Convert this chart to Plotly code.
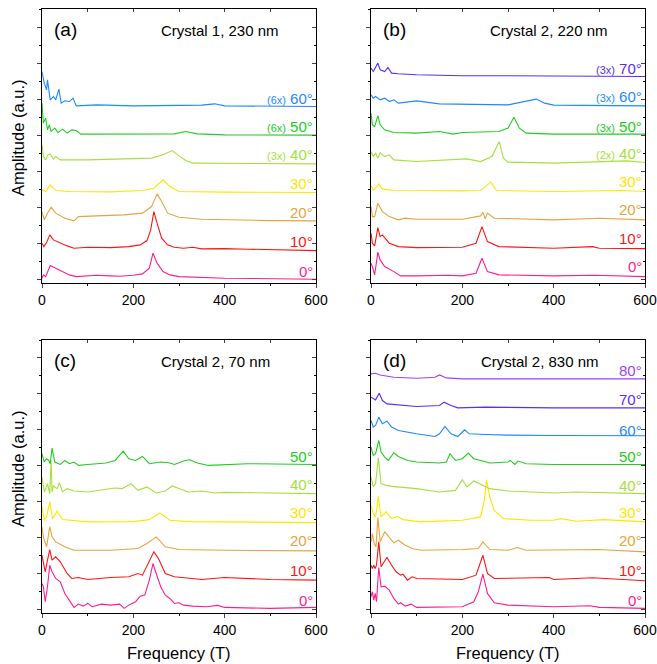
import plotly.graph_objects as go

# ---------------- data (frequency T, amplitude a.u. incl. offset) ----------------
A0 = [(0,1.2),(3,4.5),(8,2.8),(18,13.8),(30,11.2),(45,7.8),(60,4.5),(75,2.8),(100,3.5),(120,4.2),(150,3.5),(170,3.2),(200,4.2),(220,5.5),(235,11.2),(243,26.2),(252,16.2),(265,7.8),(280,4.5),(300,2.8),(400,1.2),(500,0.5),(600,0.2)]
A10 = [(0,36.2),(4,32.8),(10,36.8),(17,44.5),(25,39.5),(40,36.2),(55,33.5),(70,31.2),(100,32.2),(150,31.8),(190,32.8),(215,34.5),(230,38.8),(238,49.5),(245,67.8),(252,56.2),(262,41.2),(275,34.5),(290,32.2),(310,31.2),(330,32.2),(350,30.5),(400,30.8),(450,30.2),(500,29.5),(600,28.8)]
A20 = [(0,67.8),(5,59.5),(12,66.2),(20,72.2),(30,66.2),(50,61.2),(70,58.5),(80,62.8),(120,63.5),(180,64.5),(220,66.2),(240,72.8),(252,85.5),(262,77.8),(275,66.2),(300,62.2),(350,60.2),(400,59.5),(500,58.8),(600,58.5)]
A30 = [(0,89.5),(8,87.8),(18,94.5),(30,88.8),(60,87.8),(150,87.5),(220,88.8),(245,91.2),(265,99.5),(280,92.8),(300,87.8),(400,87.2),(600,86.8)]
A40 = [(0,134.5),(3,122.8),(8,119.5),(13,124.5),(18,125.5),(25,120.2),(30,122.8),(40,119.5),(100,119.5),(200,120.2),(240,121.2),(265,124.5),(285,128.8),(300,123.5),(315,118.8),(330,116.2),(400,116.2),(600,115.5)]
A50 = [(0,176.2),(3,156.2),(8,161.2),(12,149.5),(16,154.5),(20,147.8),(28,151.2),(35,146.8),(45,150.2),(55,146.2),(65,149.5),(75,148.8),(85,145.2),(150,145.2),(250,145.2),(290,145.5),(315,147.8),(340,145.5),(400,144.5),(600,144.2)]
A60 = [(0,207.8),(5,196.2),(10,189.5),(12,199.5),(18,179.5),(25,182.8),(30,179.5),(37,190.2),(42,176.2),(50,178.5),(60,177.8),(68,181.2),(75,173.5),(120,174.5),(200,173.5),(300,173.5),(350,174.2),(378,175.5),(400,173.5),(600,172.8)]

B0 = [(0,16.2),(3,12.8),(8,4.5),(15,27.2),(20,19.5),(30,12.8),(50,7.8),(65,3.5),(100,3.5),(170,4.2),(200,3.5),(230,6.2),(243,21.2),(255,7.8),(280,4.5),(400,3.5),(490,4.2),(600,2.8)]
B10 = [(0,46.2),(3,36.2),(8,33.5),(15,51.8),(20,42.8),(25,44.5),(40,36.2),(60,32.8),(100,31.8),(200,32.2),(230,36.2),(243,52.8),(255,37.8),(280,32.8),(400,31.2),(485,32.8),(500,31.2),(600,30.8)]
B20 = [(0,72.8),(3,62.8),(8,62.8),(15,76.2),(25,67.8),(40,62.8),(60,59.5),(75,61.2),(100,60.2),(200,60.2),(240,63.5),(245,67.2),(250,60.5),(255,66.2),(270,61.2),(400,59.5),(500,61.2),(600,59.5)]
B30 = [(0,94.5),(5,89.5),(10,91.2),(17,95.5),(25,90.2),(50,88.8),(200,88.5),(240,88.8),(262,97.2),(275,88.8),(400,87.8),(550,88.8),(600,87.8)]
B40 = [(0,127.8),(5,122.8),(10,126.2),(15,121.2),(20,126.8),(30,122.8),(40,124.5),(50,119.5),(100,117.8),(175,119.5),(210,120.5),(240,117.8),(265,122.8),(281,137.8),(290,121.2),(300,117.2),(400,116.2),(560,118.5),(600,116.8)]
B50 = [(0,166.2),(3,154.5),(8,152.8),(15,163.8),(20,154.5),(30,149.5),(50,146.8),(100,146.2),(150,147.8),(180,145.2),(200,146.8),(280,147.8),(300,151.2),(313,162.2),(325,151.2),(340,146.2),(400,145.2),(600,145.2)]
B60 = [(0,184.5),(5,181.2),(10,182.8),(20,179.5),(30,181.2),(40,177.8),(50,179.5),(60,176.2),(100,178.5),(150,175.5),(300,174.5),(340,177.8),(362,180.2),(380,176.2),(400,174.2),(600,173.5)]
B70 = [(0,211.2),(5,207.8),(15,216.2),(20,209.5),(30,207.8),(37,211.8),(45,206.2),(60,205.5),(100,204.5),(200,203.5),(300,203.5),(600,202.8)]

C0 = [(0,26),(3,22.7),(7,7.7),(12,22.7),(17,44.3),(22,37.7),(30,31),(40,27.7),(50,16),(60,9.3),(70,2),(80,5.3),(90,3.3),(100,6),(110,2.7),(130,5.3),(150,4.3),(170,5.3),(180,1),(190,4.3),(205,7.7),(215,13.3),(225,14.3),(235,29.3),(243,46),(250,36),(260,22.7),(270,14.3),(280,11),(290,6),(300,6.7),(310,4.3),(330,3.3),(360,2.7),(385,4),(400,2),(500,1),(600,2)]
C10 = [(0,54.3),(3,46),(7,37.7),(12,49.3),(17,60),(22,49.3),(30,52.7),(40,47.7),(55,36),(65,31),(80,32),(100,30),(150,32),(190,32.7),(210,36),(220,34.3),(235,49.3),(245,57.7),(255,51),(270,36),(290,32.7),(350,30),(400,32),(500,30),(600,29.3)]
C20 = [(0,82.7),(3,72.7),(10,62.7),(17,82.7),(22,72.7),(30,67.7),(50,62.7),(70,59.3),(150,59.3),(210,61),(230,66),(250,72.7),(270,62.7),(300,60),(400,59.3),(600,58.7)]
C30 = [(0,102.7),(5,89.3),(10,92.7),(17,107.7),(23,91),(33,98.3),(45,90),(60,89.3),(100,87.7),(200,88),(235,90),(258,96.7),(280,89.3),(320,88),(400,87.7),(600,87)]
C40 = [(0,132.7),(5,117.7),(12,126),(17,116),(20,149.3),(22,117.7),(25,123.7),(33,121),(38,127),(45,117.7),(55,121),(70,118.7),(100,117.7),(140,120),(160,121.7),(175,121),(195,126),(210,119.3),(230,122.7),(250,116.7),(270,118.7),(285,123.7),(300,121),(320,117.7),(350,118.7),(380,116.7),(400,117.3),(500,116.7),(600,116)]
C50 = [(0,156),(5,147.7),(10,151),(15,149.3),(18,146),(22,161.7),(28,147.7),(40,145.3),(50,149.3),(60,146),(70,147.7),(80,144.3),(100,145.3),(140,146.7),(160,149.3),(178,158.7),(190,151),(205,149.3),(220,153.3),(235,146),(260,147.7),(280,146.7),(290,145.3),(310,148.7),(323,150),(340,146.7),(365,144.3),(400,145),(450,146),(600,145.3)]

D0 = [(0,12.7),(3,17.7),(6,9.3),(9,16),(12,7.7),(17,42),(22,22.7),(30,23.3),(40,19.3),(50,11),(60,5.3),(65,6.7),(75,3.3),(88,5.3),(100,2),(150,2),(200,2.7),(225,7.7),(235,17.7),(245,35.3),(255,16),(270,6.7),(300,4.3),(400,2.7),(480,3.7),(500,2),(600,1)]
D10 = [(0,44.3),(3,41),(6,44.3),(9,41),(12,44.3),(17,67.7),(22,42.7),(35,52),(45,44.3),(55,37.7),(65,34.3),(70,35.3),(80,29.3),(90,32.7),(100,31),(200,30),(230,34.3),(245,54.3),(255,36),(270,31),(390,32),(400,30),(485,31.7),(600,28.7)]
D20 = [(0,67.7),(3,76),(7,66),(11,62.7),(15,92),(20,67.7),(30,77.7),(40,72.7),(50,66.7),(60,69.3),(75,64.3),(90,61),(110,59.3),(200,60),(235,61),(245,67.7),(260,60),(300,59.3),(320,62),(340,59.3),(500,60),(600,57.7)]
D30 = [(0,104.3),(5,96),(10,92.7),(16,113.3),(22,92.7),(33,97.7),(45,91),(57,93.3),(70,90),(110,87.7),(200,89.3),(240,92.7),(248,109.3),(253,130),(260,112.7),(270,99.3),(290,91),(350,89.3),(400,89.3),(415,91),(450,88.3),(510,90),(600,87.7)]
D40 = [(0,132.7),(5,122.7),(10,126),(16,152),(22,126),(33,124.3),(45,123.3),(100,121),(150,117.7),(185,119.3),(200,130),(210,122.7),(225,128.7),(235,126.7),(245,124.3),(260,121),(300,118.7),(400,116.7),(450,117.7),(600,116)]
D50 = [(0,162.7),(5,154.3),(10,156),(17,169.3),(22,157.7),(30,152.7),(38,149.3),(50,157),(60,153.3),(80,149.3),(100,147.7),(150,146.7),(165,147.7),(173,156),(185,149.3),(200,151),(213,156.7),(225,151),(240,149.3),(260,146.7),(300,147.7),(305,149.3),(315,145.3),(322,148.7),(340,146),(400,145.3),(600,145.3)]
D60 = [(0,189.3),(5,182.7),(10,184.3),(17,192.7),(25,186),(35,188.7),(45,182.7),(60,179.3),(100,176),(140,173.3),(150,176),(162,183.3),(175,176),(190,173.3),(205,180),(215,176),(250,175.3),(300,174.7),(400,174.3),(600,174)]
D70 = [(0,212.7),(10,210),(18,216.7),(25,209.3),(35,206),(50,205.3),(100,203.3),(150,204.3),(160,207.7),(175,204.3),(190,202),(250,202.7),(400,202),(600,202)]
D80 = [(0,236),(10,236.7),(20,235),(30,234.3),(50,232.7),(100,231.7),(140,232.7),(150,235),(165,232),(200,231),(600,231)]

ANGLES_A = [0, 10, 20, 30, 40, 50, 60]
ANGLES_B = [0, 10, 20, 30, 40, 50, 60, 70]
ANGLES_C = [0, 10, 20, 30, 40, 50]
ANGLES_D = [0, 10, 20, 30, 40, 50, 60, 70, 80]
FACTORS_A = ["", "", "", "", "(3x)", "(6x)", "(6x)"]
FACTORS_B = ["", "", "", "", "(2x)", "(3x)", "(3x)", "(3x)"]
LABEL_Y_A = [7.8, 37.8, 67.2, 96.2, 124.5, 152.8, 181.2]
LABEL_Y_B = [12.8, 41.2, 69.5, 97.8, 125.5, 152.8, 182.8, 211.2]
LABEL_Y_C = [9.3, 38.7, 68.7, 96.7, 125.3, 153.3]
LABEL_Y_D = [9.3, 38.7, 68.7, 96.7, 124.3, 153.3, 179.3, 210.7, 239.3]
TITLES = ["Crystal 1, 230 nm", "Crystal 2, 220 nm", "Crystal 2, 70 nm", "Crystal 2, 830 nm"]
PANEL_TAGS = ["(a)", "(b)", "(c)", "(d)"]
X_TICKS = [0, 200, 400, 600]

COLORS = {0: "#FF1E8E", 10: "#FF1414", 20: "#E6A43C", 30: "#FFE600", 40: "#A6E03C",
          50: "#22CC22", 60: "#1E88FF", 70: "#5A2DFF", 80: "#A040FF"}

W, H = 657, 664
FONT = "Arial, Liberation Sans, sans-serif"

panels = [
    dict(curves=[A0, A10, A20, A30, A40, A50, A60], angles=ANGLES_A, factors=FACTORS_A, ly=LABEL_Y_A,
         box=(42, 316, 9.3, 282.7)),
    dict(curves=[B0, B10, B20, B30, B40, B50, B60, B70], angles=ANGLES_B, factors=FACTORS_B, ly=LABEL_Y_B,
         box=(371, 645, 9.3, 282.7)),
    dict(curves=[C0, C10, C20, C30, C40, C50], angles=ANGLES_C, factors=[""] * 6, ly=LABEL_Y_C,
         box=(42, 316, 340, 612.7)),
    dict(curves=[D0, D10, D20, D30, D40, D50, D60, D70, D80], angles=ANGLES_D, factors=[""] * 9, ly=LABEL_Y_D,
         box=(371, 645, 340, 612.7)),
]

fig = go.Figure()
layout = dict(width=W, height=H, autosize=False, margin=dict(l=0, r=0, t=0, b=0, pad=0), showlegend=False,
              paper_bgcolor="white", plot_bgcolor="white", font=dict(family=FONT, color="black"))
annotations = []
YR = [-3.3, 270]

for i, p in enumerate(panels):
    n = i + 1
    xs = "" if n == 1 else str(n)
    xname, yname = "x" + xs, "y" + xs
    l, r, t, b = p["box"]
    xdom = [l / W, r / W]
    ydom = [1 - b / H, 1 - t / H]
    for pts, ang in zip(p["curves"], p["angles"]):
        fig.add_trace(go.Scatter(x=[q[0] for q in pts], y=[q[1] for q in pts], mode="lines",
                                 line=dict(color=COLORS[ang], width=1.1), xaxis=xname, yaxis=yname,
                                 hoverinfo="skip"))
    layout["xaxis" + xs] = dict(domain=xdom, anchor=yname, range=[0, 600], tickvals=X_TICKS, automargin=False,
                                ticks="outside", ticklen=4, tickwidth=1, showline=True, linecolor="black",
                                linewidth=1, mirror=True, showgrid=False, zeroline=False,
                                tickfont=dict(size=14, family=FONT, color="black"),
                                minor=dict(tickvals=[100, 300, 500], ticks="outside", ticklen=2.5,
                                           tickcolor="black"))
    layout["yaxis" + xs] = dict(domain=ydom, anchor=xname, range=YR, tick0=0, dtick=36, automargin=False,
                                ticks="outside", ticklen=4, tickwidth=1, showticklabels=False,
                                showline=True, linecolor="black", linewidth=1, mirror=True,
                                showgrid=False, zeroline=False,
                                minor=dict(dtick=18, tick0=0, ticks="outside", ticklen=2.5,
                                           tickcolor="black"))
    # inward mirrored ticks on top/right
    ox, oy = str(n + 4), str(n + 4)
    layout["xaxis" + ox] = dict(overlaying=xname, anchor=yname, side="top", range=[0, 600], automargin=False,
                                tickvals=[0, 100, 200, 300, 400, 500, 600], ticks="inside", ticklen=3,
                                showticklabels=False, showline=False, showgrid=False, zeroline=False)
    layout["yaxis" + oy] = dict(overlaying=yname, anchor=xname, side="right", range=YR, tick0=0, dtick=36,
                                ticks="inside", ticklen=4, showticklabels=False, showline=False,
                                showgrid=False, zeroline=False, automargin=False,
                                minor=dict(dtick=18, tick0=0, ticks="inside", ticklen=2.5, tickcolor="black"))
    fig.add_trace(go.Scatter(x=[None], y=[None], xaxis="x" + ox, yaxis="y" + oy, showlegend=False,
                             hoverinfo="skip"))
    # curve labels
    for ang, fac, ly in zip(p["angles"], p["factors"], p["ly"]):
        txt = f"{ang}°"
        if fac:
            txt = f"<span style='font-size:11px'>{fac}</span> {ang}°"
        annotations.append(dict(x=597, y=ly, xref=xname, yref=yname, text=txt, showarrow=False,
                                xanchor="right", yanchor="middle",
                                font=dict(size=15, color=COLORS[ang], family=FONT)))
    # panel tag and title
    annotations.append(dict(x=(l + 10) / W, y=1 - (t + 20.5) / H, xref="paper", yref="paper",
                            text=PANEL_TAGS[i], showarrow=False, xanchor="left", yanchor="middle",
                            font=dict(size=19, family=FONT, color="black")))
    annotations.append(dict(x=(l + (239 if n in (1, 2) else 230)) / W, y=1 - (t + 21) / H,
                            xref="paper", yref="paper", text=TITLES[i], showarrow=False,
                            xanchor="right", yanchor="middle",
                            font=dict(size=15, family=FONT, color="black")))

# axis titles
for yc in (138, 469):
    annotations.append(dict(x=18 / W, y=1 - yc / H, xref="paper", yref="paper", text="Amplitude (a.u.)",
                            textangle=-90, showarrow=False, xanchor="center", yanchor="middle",
                            font=dict(size=16.5, family=FONT, color="black")))
for xc in (178.5, 508):
    annotations.append(dict(x=xc / W, y=1 - 653 / H, xref="paper", yref="paper", text="Frequency (T)",
                            showarrow=False, xanchor="center", yanchor="middle",
                            font=dict(size=16.5, family=FONT, color="black")))

layout["annotations"] = annotations
fig.update_layout(**layout)
fig.write_html("out.html", config={"displayModeBar": False, "responsive": False},
               post_script="document.body.style.margin='0';document.body.style.padding='0';"
                           "document.body.style.overflow='hidden';"
                           "document.documentElement.style.overflow='hidden';")
